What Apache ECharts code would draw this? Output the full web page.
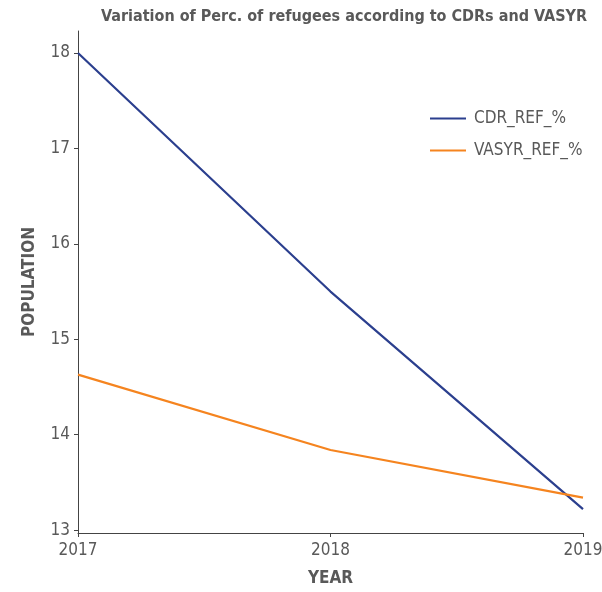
<!DOCTYPE html>
<html>
<head>
<meta charset="utf-8">
<script src="https://cdn.jsdelivr.net/npm/echarts@6/dist/echarts.min.js"></script>
<style>
  html, body { margin: 0; padding: 0; background: #fff; }
  #chart { width: 602px; height: 592px; }
</style>
</head>
<body>
<div id="chart"></div>
<script>
const years = ['2017', '2018', '2019'];
const cdrRef = [18.0, 15.5, 13.22];
const vasyrRef = [14.63, 13.84, 13.34];
const yTicks = [13, 14, 15, 16, 17, 18];

const FONT = '"Liberation Sans Narrow", "DejaVu Sans Condensed", "Roboto", sans-serif';
const GREY = '#595959';

const myChart = echarts.init(document.getElementById('chart'));
myChart.setOption({
  animation: false,
  textStyle: { fontFamily: FONT },
  title: {
    text: 'Variation of Perc. of refugees according to CDRs and VASYR',
    left: 339,
    textAlign: 'center',
    top: 4,
    textStyle: { fontFamily: FONT, fontSize: 16, fontWeight: 'bold', color: GREY }
  },
  legend: {
    orient: 'vertical',
    left: 425,
    top: 105,
    icon: 'rect',
    itemWidth: 36,
    itemHeight: 2,
    itemGap: 15,
    textStyle: { fontFamily: FONT, fontSize: 17, color: GREY, padding: [0, 0, 0, 3] },
    data: ['CDR_REF_%', 'VASYR_REF_%']
  },
  grid: { left: 78, right: 19, top: 31, bottom: 59, outerBoundsMode: 'none' },
  xAxis: {
    type: 'category',
    data: years,
    boundaryGap: false,
    name: 'YEAR',
    nameLocation: 'middle',
    nameGap: 37,
    nameTextStyle: { fontFamily: FONT, fontSize: 17, fontWeight: 'bold', color: GREY },
    axisLine: { lineStyle: { color: '#444', width: 1 } },
    axisTick: { show: true, length: 4, lineStyle: { color: '#444' } },
    axisLabel: { fontFamily: FONT, fontSize: 17, color: GREY, margin: 9 }
  },
  yAxis: {
    type: 'value',
    min: 12.97,
    max: 18.23,
    name: 'POPULATION',
    nameLocation: 'middle',
    nameGap: 40,
    nameTextStyle: { fontFamily: FONT, fontSize: 17, fontWeight: 'bold', color: GREY },
    splitLine: { show: false },
    axisLine: { show: true, lineStyle: { color: '#444', width: 1 } },
    axisTick: { show: true, length: 4, customValues: yTicks, lineStyle: { color: '#444' } },
    axisLabel: { fontFamily: FONT, fontSize: 17, color: GREY, margin: 8, customValues: yTicks }
  },
  series: [
    {
      name: 'CDR_REF_%',
      type: 'line',
      data: cdrRef,
      symbol: 'none',
      lineStyle: { color: '#2b3f8e', width: 2.2 },
      itemStyle: { color: '#2b3f8e' }
    },
    {
      name: 'VASYR_REF_%',
      type: 'line',
      data: vasyrRef,
      symbol: 'none',
      lineStyle: { color: '#f5841f', width: 2.2 },
      itemStyle: { color: '#f5841f' }
    }
  ]
});
</script>
</body>
</html>
